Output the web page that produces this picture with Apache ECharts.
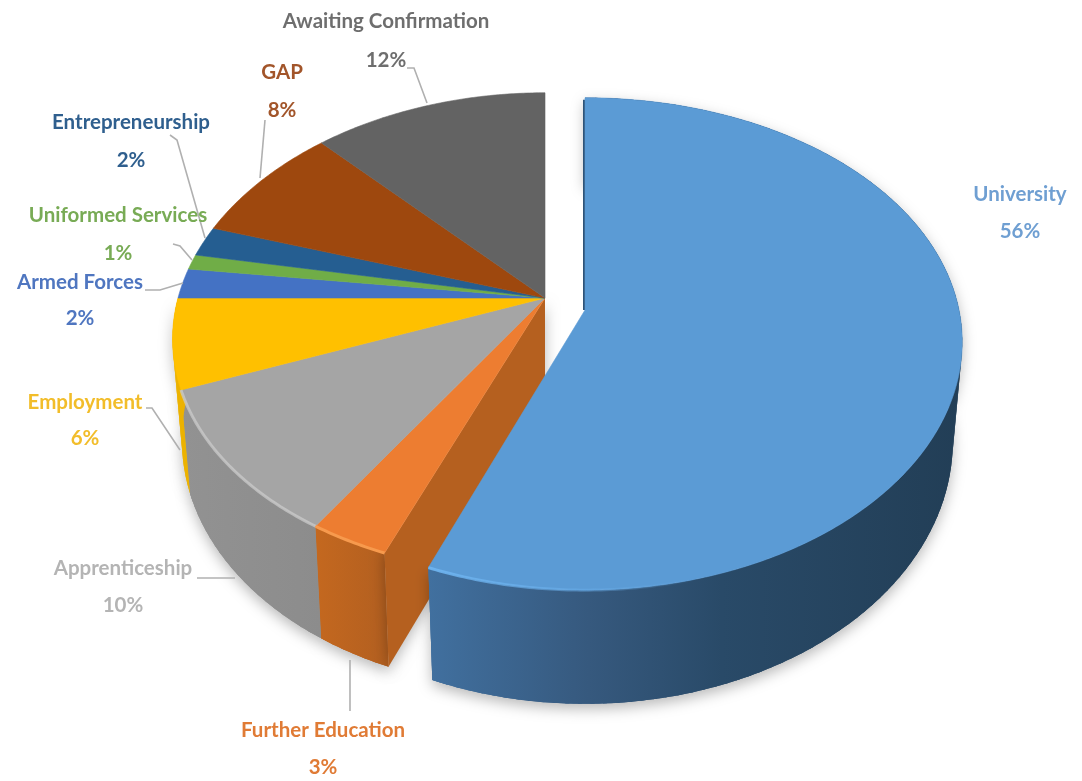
<!DOCTYPE html>
<html><head><meta charset="utf-8">
<style>html,body{margin:0;padding:0;background:#fff}#c{width:1082px;height:781px}</style>
<script src="https://cdn.jsdelivr.net/npm/echarts@6/dist/echarts.min.js"></script>
</head><body><div id="c"></div>
<script>
const categories = ['University','Further Education','Apprenticeship','Employment','Armed Forces','Uniformed Services','Entrepreneurship','GAP','Awaiting Confirmation'];
const values = [56,3,10,6,2,1,2,8,12];
const topColors = ['#5b9bd5','#ed7d31','#a5a5a5','#ffc000','#4472c4','#70ad47','#255e91','#9e480e','#636363'];
const labelColors = ['#6f9fd2','#e07b35','#b4b4b4','#f2bd2a','#4f76c0','#78ab55','#2f5f8e','#a2552a','#6e6e6e'];
const wallStops = [
  [[0,'#41709f'],[0.3,'#36597e'],[0.55,'#294a68'],[1,'#223e56']],
  [[0,'#c4681f'],[1,'#b25f20']],
  [[0,'#929292'],[1,'#8c8c8c']],
  [[0,'#ecb200'],[1,'#ecb200']],
  null,null,null,null,null
];
/* centre of each slice's apex: University is pulled out of the pie */
const apexes = [[585,310],[545,298],[545,298],[545,298],[545,298],[545,298],[545,298],[545,298],[545,298]];
const radiusX = [374,367,367,367,367,367,367,367,367];
const radiusY = [241.5,236,236,236,236,236,236,236,236];
const perspX  = [0.13,0.17,0.17,0.17,0.17,0.17,0.17,0.17,0.17];
const perspY  = [0.138,0.15,0.15,0.15,0.15,0.15,0.15,0.15,0.15];
const depth = 98, floorScale = 0.975;
/* label layout: text centre x, name y, percent y, leader-line points */
const labelX = [1020,323,123,85,80,118,131,282,386];
const nameY  = [194,730,568,402,282,215,122,72,21];
const pctY   = [231,767,605,438,318,253,160,110,60];
const leaders = [
  null,
  [[350,660],[350,711]],
  [[197,578],[235,578]],
  [[146,408],[152,408],[180,450]],
  [[145,290],[160,290],[183,283]],
  [[173,244],[180,246],[192,260]],
  [[170,135],[177,140],[205,238]],
  [[265,120],[260,178]],
  [[407,68],[414,68],[427,103]]
];

const total = values.reduce((a,b)=>a+b,0);
const starts = []; values.reduce((a,v,i)=>{starts[i]=a;return a+v;},0);
const deg = v => v/total*Math.PI*2;

function rim(i,theta,floor){
  const u=Math.sin(theta), v=-Math.cos(theta);
  const dx=1-perspX[i]*v, dy=1-perspY[i]*v;
  const s=floor?floorScale:1;
  return [apexes[i][0]+radiusX[i]*s*u/dx, apexes[i][1]+radiusY[i]*v/dy+(floor?depth/dy:0)];
}
function arc(i,a,b,floor){
  const n=Math.max(4,Math.ceil((b-a)/0.01)), pts=[];
  for(let k=0;k<=n;k++) pts.push(rim(i,a+(b-a)*k/n,floor));
  return pts;
}
const grad = (x0,x1,stops)=> new echarts.graphic.LinearGradient(x0,0,x1,0,stops.map(s=>({offset:s[0],color:s[1]})),true);

function renderSlice(params,api){
  const i=params.dataIndex, val=api.value(0);
  const a=deg(starts[i]), b=deg(starts[i]+val);
  const ap=apexes[i], kids=[];
  const top=arc(i,a,b,false), floor=arc(i,a,b,true);
  const shadow={shadowColor:'rgba(0,0,0,0.28)',shadowBlur:14,shadowOffsetY:5};
  const topZ = i===0?40:20, wallZ = i===0?30:10;
  if(wallStops[i]){
    const xs=floor.concat(top).map(p=>p[0]);
    const x0=Math.min(...xs), x1=Math.max(...xs);
    const fill=grad(x0,x1,wallStops[i]);
    /* one soft shadow under the floor, then the wall swept as short strips so the silhouette follows the tangents */
    kids.push({type:'polygon',z2:wallZ-1,shape:{points:top.concat(floor.slice().reverse())},style:Object.assign({fill:fill},shadow)});
    const step=3;
    for(let k=0;k+step<top.length;k+=step){
      const e=Math.min(top.length-1,k+step+1);
      kids.push({type:'polygon',z2:wallZ,shape:{points:[top[k],top[e],floor[e],floor[k]]},style:{fill:fill}});
    }
    const e=top.length-1, k=Math.max(0,e-step-1);
    kids.push({type:'polygon',z2:wallZ,shape:{points:[top[k],top[e],floor[e],floor[k]]},style:{fill:fill}});
  }
  if(i===1){ /* exposed cut face of Further Education */
    const pTop=rim(i,a,false), pFloor=rim(i,a,true);
    kids.push({type:'polygon',z2:wallZ+1,shape:{points:[ap,pTop,pFloor,[ap[0],ap[1]+depth+10]]},
      style:Object.assign({fill:'#b5601f'},shadow)});
  }
  kids.push({type:'polygon',z2:topZ,shape:{points:[ap].concat(top)},
    style:{fill:topColors[i],stroke:topColors[i],lineWidth:0.6}});
  if(i===0){ /* dark edge of the pulled-out slice, rim highlight */
    kids.push({type:'polyline',z2:topZ-1,shape:{points:[[ap[0]-1,ap[1]],[ap[0]-1,rim(i,0,false)[1]+2]]},
      style:{stroke:'#2f5478',lineWidth:2,fill:null}});
    kids.push({type:'polyline',z2:topZ+1,shape:{points:arc(i,deg(values[0])*0.82,b,false)},
      style:{stroke:new echarts.graphic.LinearGradient(1,0,0,0,[{offset:0,color:'rgba(110,180,240,0)'},{offset:1,color:'rgba(110,180,240,0.95)'}]),lineWidth:3,fill:null}});
  }
  if(i===1){
    kids.push({type:'polyline',z2:topZ+1,shape:{points:top},style:{stroke:'#f79a4d',lineWidth:3,fill:null}});
  }
  if(i===2){
    kids.push({type:'polyline',z2:topZ+1,shape:{points:top},
      style:{stroke:'rgba(205,205,205,0.7)',lineWidth:3,fill:null}});
  }
  /* label */
  const font='bold 20.5px Lato, "Open Sans", sans-serif';
  kids.push({type:'text',z2:60,style:{text:categories[i],x:labelX[i],y:nameY[i],fill:labelColors[i],font,textAlign:'center',textVerticalAlign:'middle'}});
  kids.push({type:'text',z2:60,style:{text:Math.round(val/total*100)+'%',x:labelX[i],y:pctY[i],fill:labelColors[i],font,textAlign:'center',textVerticalAlign:'middle'}});
  if(leaders[i]) kids.push({type:'polyline',z2:55,shape:{points:leaders[i]},style:{stroke:'#b0b0b0',lineWidth:1.6,fill:null}});
  return {type:'group',children:kids};
}

const chart=echarts.init(document.getElementById('c'),null,{renderer:'canvas'});
chart.setOption({
  animation:false,
  backgroundColor:'#ffffff',
  series:[{type:'custom',coordinateSystem:'none',silent:true,
    data:categories.map((name,i)=>({name,value:[values[i]]})),
    renderItem:renderSlice,clip:false}]
});
</script></body></html>
